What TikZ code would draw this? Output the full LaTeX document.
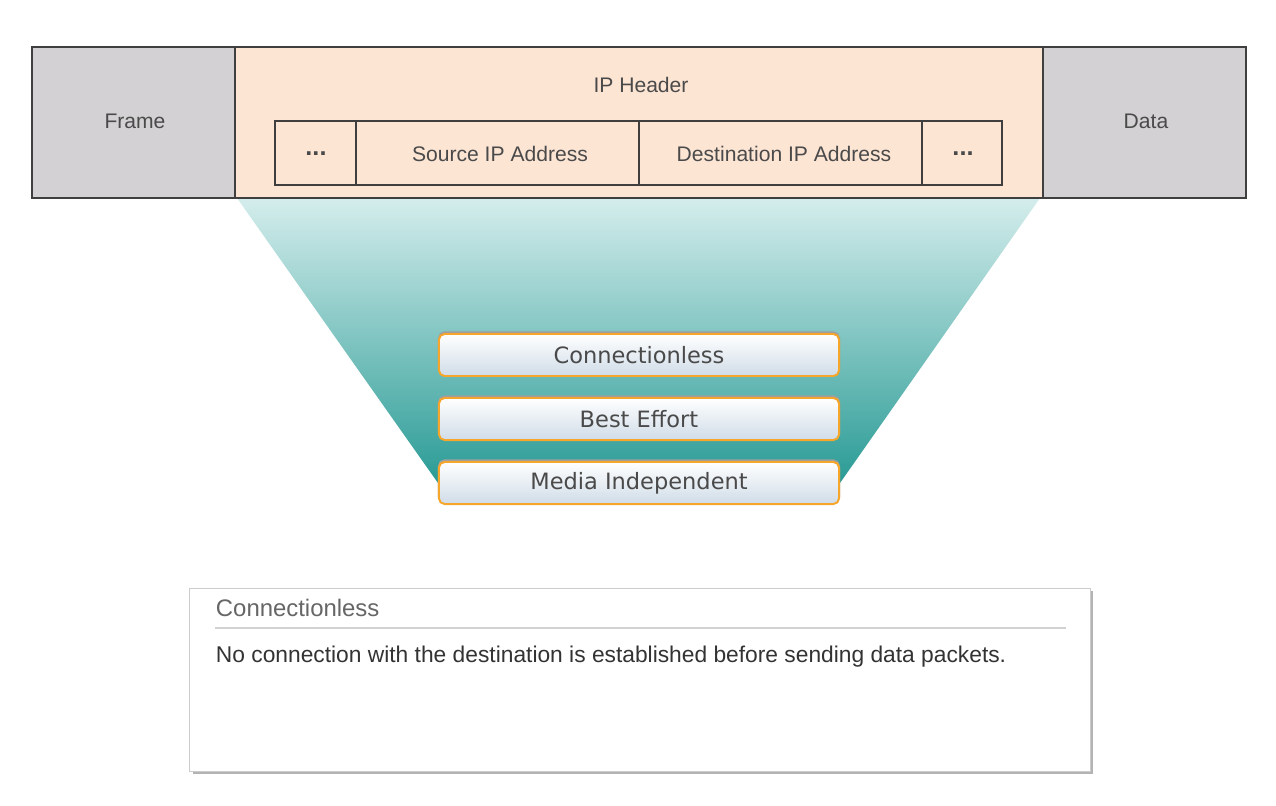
\documentclass[tikz,border=0pt]{standalone}
\usepackage{fontspec}
\setmainfont{Liberation Sans}
\newfontfamily\btnfont{DejaVu Sans}
\usetikzlibrary{shadows}

\definecolor{cellgray}{HTML}{D3D1D3}
\definecolor{peach}{HTML}{FDE5D4}
\definecolor{edge}{HTML}{3F3F3F}
\definecolor{tealtop}{HTML}{D4EDEC}
\definecolor{tealbot}{HTML}{2A9B95}
\definecolor{btnorange}{HTML}{F6A62A}
\definecolor{btnblue}{HTML}{D0DCE8}
\definecolor{txt}{HTML}{4A4A4A}

\begin{document}
\begin{tikzpicture}[x=0.025cm, y=-0.025cm,
    celltext/.style={text=txt, font=\fontsize{15}{18}\selectfont},
    btn/.style={rounded corners=4pt, draw=btnorange, line width=1.4pt,
        top color=white, bottom color=btnblue,
        preaction={draw=gray!75, line width=1.4pt, transform canvas={yshift=1.2pt}},
        minimum width=10cm, minimum height=1.05cm, inner sep=0pt,
        text=txt, font=\btnfont\fontsize{16}{20}\selectfont},
    infobox/.style={draw=gray!40, fill=white, line width=0.6pt,
        drop shadow={opacity=0.6, shadow xshift=2pt, shadow yshift=-2pt},
        minimum width=22.5cm, minimum height=4.575cm, inner sep=0pt}]
    \useasboundingbox (0,0) rectangle (1276,805);

    % Funnel under the header
    \shade[top color=tealtop, bottom color=tealbot] (237,198) -- (1040,198) -- (840,483) -- (438,483) -- cycle;

    % Packet
    \fill[cellgray] (32,47) rectangle (235,198);
    \fill[peach] (235,47) rectangle (1043,198);
    \fill[cellgray] (1043,47) rectangle (1246,198);
    \draw[edge, line width=2pt] (32,47) rectangle (1246,198);
    \draw[edge, line width=2pt] (235,47) -- (235,198);
    \draw[edge, line width=2pt] (1043,47) -- (1043,198);

    % IP header fields
    \draw[edge, line width=2pt] (275,121) rectangle (1002,185);
    \draw[edge, line width=2pt] (356,121) -- (356,185);
    \draw[edge, line width=2pt] (639,121) -- (639,185);
    \draw[edge, line width=2pt] (922,121) -- (922,185);

    \node[celltext] (frame) at (135,121) {Frame};
    \node[celltext] (iphdr) at (641,85) {IP Header};
    \node[celltext] (data) at (1146,121) {Data};
    \node[celltext, font=\fontsize{18}{18}\selectfont] (dotsl) at (316,154) {\textbf{...}};
    \node[celltext] (srcip) at (500,154) {Source IP Address};
    \node[celltext] (dstip) at (784,154) {Destination IP Address};
    \node[celltext, font=\fontsize{18}{18}\selectfont] (dotsr) at (963,154) {\textbf{...}};

    % Characteristics
    \node[btn] (conn) at (639,355) {Connectionless};
    \node[btn] (best) at (639,419) {Best Effort};
    \node[btn] (media) at (639,483) {Media Independent};

    % Description
    \node[infobox] (info) at (640,679.5) {};
    \node[anchor=west, text=gray!80!black, font=\fontsize{17}{20}\selectfont] (infotitle) at (211,608) {Connectionless};
    \draw[gray!35, line width=1pt] (215,628) -- (1066,628);
    \node[anchor=west, text=black!80, font=\fontsize{16.2}{19}\selectfont] (infotext) at (211,657) {No connection with the destination is established before sending data packets.};

\end{tikzpicture}
\end{document}
